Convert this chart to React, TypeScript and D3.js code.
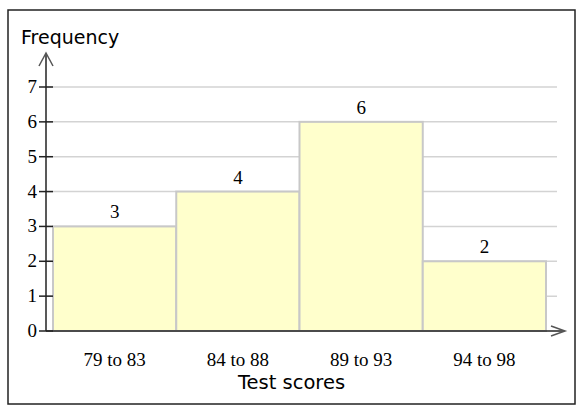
import React from 'react';
import * as d3 from 'd3';

const categories = ['79 to 83', '84 to 88', '89 to 93', '94 to 98'];
const frequencies = [3, 4, 6, 2];
const yTicks = [0, 1, 2, 3, 4, 5, 6, 7];

const W = 588;
const H = 416;
const axisX = 46;
const axisY = 331;

const App: React.FC = () => {
  const x = d3.scaleBand<string>().domain(categories).range([53, 546]).paddingInner(0).paddingOuter(0);
  const y = d3.scaleLinear().domain([0, 7]).range([axisY, 87]);

  const serif = '"Liberation Serif", "Times New Roman", serif';
  const sans = '"DejaVu Sans", Verdana, sans-serif';

  return (
    <svg width={W} height={H} style={{ position: 'absolute', left: 0, top: 0, background: '#fff' }}>
      <rect x={8} y={10} width={567} height={394} fill="#fff" stroke="#222" strokeWidth={1.5} />

      {/* grid lines */}
      {yTicks.filter(t => t > 0).map(t => (
        <line key={'g' + t} x1={axisX} x2={557} y1={y(t)} y2={y(t)} stroke="#d3d3d3" strokeWidth={1.5} />
      ))}

      {/* bars */}
      {categories.map((c, i) => (
        <rect
          key={c}
          x={x(c)!}
          y={y(frequencies[i])}
          width={x.bandwidth()}
          height={axisY - y(frequencies[i])}
          fill="#ffffcc"
          stroke="#c8c8c8"
          strokeWidth={2}
        />
      ))}

      {/* value labels */}
      {categories.map((c, i) => (
        <text
          key={'v' + c}
          x={x(c)! + x.bandwidth() / 2}
          y={y(frequencies[i]) - 8}
          textAnchor="middle"
          fontFamily={serif}
          fontSize={19}
          fill="#000"
        >
          {frequencies[i]}
        </text>
      ))}

      {/* y axis */}
      <line x1={axisX} x2={axisX} y1={axisY} y2={54} stroke="#222" strokeWidth={1.5} />
      <path d={`M${axisX - 7},66 L${axisX},53 L${axisX + 7},66`} fill="none" stroke="#555" strokeWidth={1.5} />
      {yTicks.map(t => (
        <g key={'t' + t}>
          <line x1={39} x2={53} y1={y(t)} y2={y(t)} stroke="#222" strokeWidth={1.5} />
          <text x={37} y={y(t) + 6} textAnchor="end" fontFamily={serif} fontSize={19} fill="#000">
            {t}
          </text>
        </g>
      ))}

      {/* x axis */}
      <line x1={axisX} x2={564} y1={axisY} y2={axisY} stroke="#222" strokeWidth={1.5} />
      <path d={`M551,${axisY - 5} L565,${axisY} L551,${axisY + 5}`} fill="none" stroke="#555" strokeWidth={1.5} />

      {/* category labels */}
      {categories.map(c => (
        <text
          key={'c' + c}
          x={x(c)! + x.bandwidth() / 2}
          y={366}
          textAnchor="middle"
          fontFamily={serif}
          fontSize={19}
          fill="#000"
        >
          {c}
        </text>
      ))}

      <text x={291.5} y={389} textAnchor="middle" fontFamily={sans} fontSize={19.5} fill="#000">
        Test scores
      </text>
      <text x={21} y={44} fontFamily={sans} fontSize={19} fill="#000">
        Frequency
      </text>
    </svg>
  );
};

export default App;
